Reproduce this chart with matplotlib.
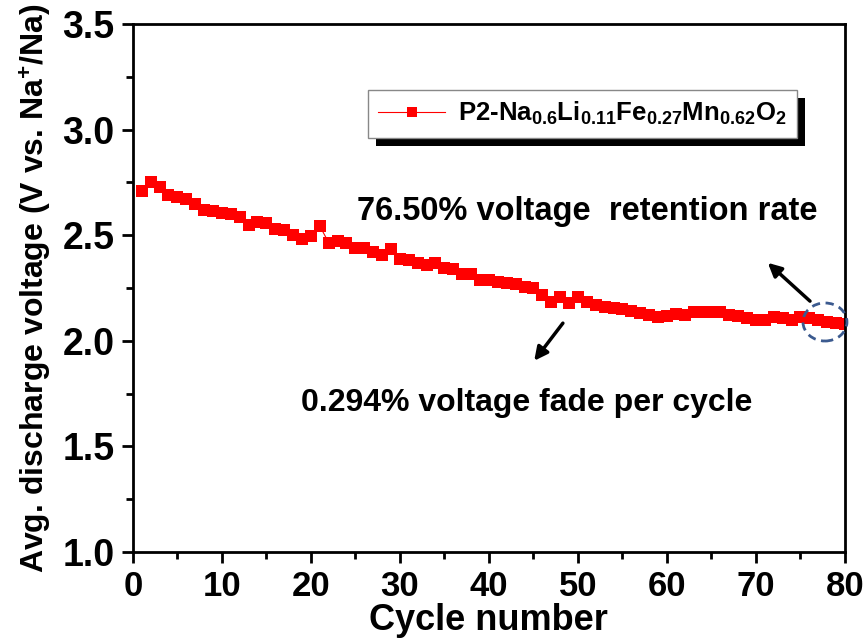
import matplotlib
matplotlib.use("Agg")
import matplotlib.pyplot as plt
from matplotlib.patches import Ellipse, Rectangle
from matplotlib.transforms import IdentityTransform

plt.rcParams['font.family'] = ['Liberation Sans', 'DejaVu Sans']
plt.rcParams['font.weight'] = 'bold'
plt.rcParams['mathtext.fontset'] = 'custom'
plt.rcParams['mathtext.rm'] = 'Liberation Sans:bold'
plt.rcParams['mathtext.bf'] = 'Liberation Sans:bold'
plt.rcParams['mathtext.it'] = 'Liberation Sans:bold'
plt.rcParams['mathtext.default'] = 'bf'

cycles = list(range(1, 81))
voltage = [
    2.71, 2.75, 2.73, 2.69, 2.68, 2.67, 2.65, 2.62, 2.614, 2.607,
    2.60, 2.588, 2.548, 2.564, 2.557, 2.53, 2.525, 2.50, 2.48, 2.496,
    2.544, 2.465, 2.474, 2.463, 2.44, 2.44, 2.42, 2.406, 2.433, 2.386,
    2.383, 2.367, 2.359, 2.367, 2.343, 2.338, 2.316, 2.316, 2.288, 2.288,
    2.28, 2.272, 2.267, 2.256, 2.249, 2.217, 2.185, 2.206, 2.18, 2.206,
    2.185, 2.17, 2.16, 2.154, 2.15, 2.141, 2.13, 2.122, 2.111, 2.119,
    2.125, 2.12, 2.135, 2.136, 2.138, 2.134, 2.122, 2.117, 2.108, 2.10,
    2.098, 2.111, 2.107, 2.10, 2.114, 2.107, 2.098, 2.09, 2.086, 2.08,
]
series_label = 'P2-Na$_{0.6}$Li$_{0.11}$Fe$_{0.27}$Mn$_{0.62}$O$_2$'
xlabel = 'Cycle number'
ylabel = 'Avg. discharge voltage (V vs. Na$^{+}$/Na)'
text_retention = '76.50% voltage  retention rate'
text_fade = '0.294% voltage fade per cycle'

fig = plt.figure(figsize=(8.68, 6.4), dpi=100)
ax = fig.add_axes([0.153, 0.1375, 0.8205, 0.825])

ax.plot(cycles, voltage, color='#FF0000', marker='s', markersize=8.5,
        linewidth=0.8, markeredgewidth=0, label=series_label)

ax.set_xlim(0, 80)
ax.set_ylim(1.0, 3.5)
ax.set_xticks(range(0, 81, 10))
ax.set_xticks(range(5, 80, 10), minor=True)
ax.set_yticks([1.0, 1.5, 2.0, 2.5, 3.0, 3.5])
ax.set_yticks([1.25, 1.75, 2.25, 2.75, 3.25], minor=True)
ax.set_yticklabels(['1.0', '1.5', '2.0', '2.5', '3.0', '3.5'])
for s in ax.spines.values():
    s.set_linewidth(2)
ax.tick_params(which='major', direction='out', length=8, width=2, pad=5)
ax.tick_params(which='minor', direction='out', length=5, width=2)
ax.tick_params(axis='y', labelsize=27)
ax.tick_params(axis='x', labelsize=25)

ax.set_xlabel(xlabel, fontsize=26, fontweight='bold', labelpad=0)
ax.set_ylabel(ylabel, fontsize=23, fontweight='bold', labelpad=6)

leg = ax.legend(loc='upper left', bbox_to_anchor=(0.33, 0.875), borderaxespad=0,
                fontsize=18.5, frameon=True, fancybox=False, handlelength=2.6,
                borderpad=0.4, handletextpad=0.5, markerscale=0.85)
leg.get_frame().set_edgecolor('#888888')
leg.get_frame().set_linewidth(1)
leg.get_frame().set_facecolor('white')
leg.get_frame().set_alpha(1)
leg.set_zorder(10)

ax.text(51.0, 2.61, text_retention, fontsize=23.5, fontweight='bold', ha='center', va='center')
ax.text(44.3, 1.705, text_fade, fontsize=23, fontweight='bold', ha='center', va='center')

ax.annotate('', xy=(71.1, 2.378), xytext=(76.3, 2.179),
            arrowprops=dict(arrowstyle='-|>', color='black', lw=2.5, mutation_scale=20))
ax.annotate('', xy=(44.9, 1.895), xytext=(48.5, 2.094),
            arrowprops=dict(arrowstyle='-|>', color='black', lw=2.5, mutation_scale=20))

ell = Ellipse((77.75, 2.089), 4.94, 0.18, fill=False, edgecolor='#3B5A8F',
              linestyle=(0, (3, 2)), linewidth=2, clip_on=False, zorder=6)
ax.add_patch(ell)

fig.canvas.draw()
bb = leg.get_window_extent()
shadow = Rectangle((bb.x0 + 8, bb.y0 - 8), bb.width, bb.height, transform=IdentityTransform(),
                   facecolor='black', edgecolor='none', zorder=9, clip_on=False)
ax.add_artist(shadow)

fig.savefig('out.png', dpi=100)
